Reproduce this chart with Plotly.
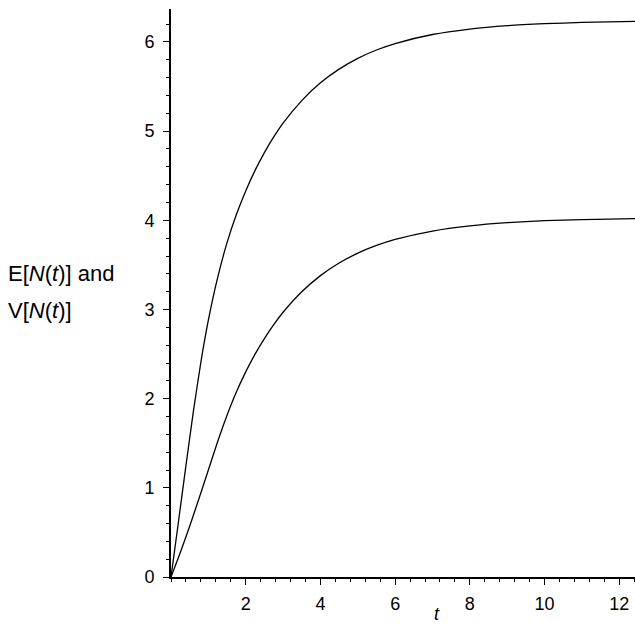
import plotly.graph_objects as go

# Values
t_upper = [0, 0.2, 0.4, 0.6, 0.8, 1.0, 1.25, 1.5, 1.75, 2.0, 2.25, 2.5, 2.75, 3.0, 3.5, 4.0, 4.5, 5.0, 5.5, 6.0, 7.0, 8.0, 9.0, 10.0, 11.0, 12.45]
v_upper = [0, 0.62, 1.25, 1.86, 2.41, 2.88, 3.36, 3.75, 4.065, 4.33, 4.56, 4.76, 4.935, 5.09, 5.343, 5.542, 5.696, 5.816, 5.91, 5.983, 6.084, 6.145, 6.183, 6.205, 6.219, 6.231]

t_lower = [0, 0.25, 0.5, 0.75, 1.0, 1.25, 1.5, 1.75, 2.0, 2.25, 2.5, 2.75, 3.0, 3.5, 4.0, 4.5, 5.0, 5.5, 6.0, 7.0, 8.0, 9.0, 10.0, 11.0, 12.45]
v_lower = [0, 0.275, 0.57, 0.88, 1.20, 1.52, 1.815, 2.075, 2.30, 2.50, 2.674, 2.831, 2.969, 3.199, 3.380, 3.521, 3.632, 3.718, 3.786, 3.880, 3.938, 3.974, 3.996, 4.009, 4.020]

x_ticks = [2, 4, 6, 8, 10, 12]
y_ticks = [0, 1, 2, 3, 4, 5, 6]

font_family = "Liberation Sans, Arial, Helvetica, sans-serif"

fig = go.Figure()
for tx, vy in ((t_upper, v_upper), (t_lower, v_lower)):
    fig.add_trace(go.Scatter(x=tx, y=vy, mode="lines",
                             line=dict(color="black", width=1.3, shape="spline", smoothing=0.5),
                             showlegend=False, hoverinfo="skip"))

axis_common = dict(showgrid=False, zeroline=False, showline=True, linecolor="black", linewidth=1.6,
                   ticks="outside", ticklen=6, tickwidth=1.3, tickcolor="black",
                   automargin=False, tickfont=dict(size=18, family=font_family, color="black"))

fig.update_layout(
    width=635, height=632,
    margin=dict(l=171, r=0, t=9, b=55, autoexpand=False),
    paper_bgcolor="white", plot_bgcolor="white",
    font=dict(family=font_family, size=18, color="black"),
    xaxis=dict(range=[0, 12.42], tickvals=x_ticks, ticktext=[str(v) for v in x_ticks],
               minor=dict(dtick=0.4, tick0=0, ticks="outside", ticklen=3, tickwidth=1, tickcolor="black"),
               ticklabelstandoff=4, **axis_common),
    yaxis=dict(range=[0, 6.37], tickvals=y_ticks, ticktext=[str(v) for v in y_ticks],
               minor=dict(dtick=0.2, tick0=0, ticks="outside", ticklen=3.5, tickwidth=1, tickcolor="black"),
               ticklabelstandoff=5, **axis_common),
)

fig.add_annotation(text="<i>t</i>", xref="paper", yref="paper",
                   x=(437 - 171) / 464, y=(577 - 614) / 568, xanchor="center", yanchor="middle",
                   showarrow=False, font=dict(size=18))
fig.add_annotation(text="E[<i>N</i>(<i>t</i>)] and", xref="paper", yref="paper",
                   x=-165 / 464, y=(577 - 273) / 568, xanchor="left", yanchor="middle",
                   showarrow=False, font=dict(size=22))
fig.add_annotation(text="V[<i>N</i>(<i>t</i>)]", xref="paper", yref="paper",
                   x=-165 / 464, y=(577 - 310) / 568, xanchor="left", yanchor="middle",
                   showarrow=False, font=dict(size=22))

fig.write_html("out.html",
               config={"displayModeBar": False},
               post_script="document.body.style.margin='0';document.body.style.overflow='hidden';")
